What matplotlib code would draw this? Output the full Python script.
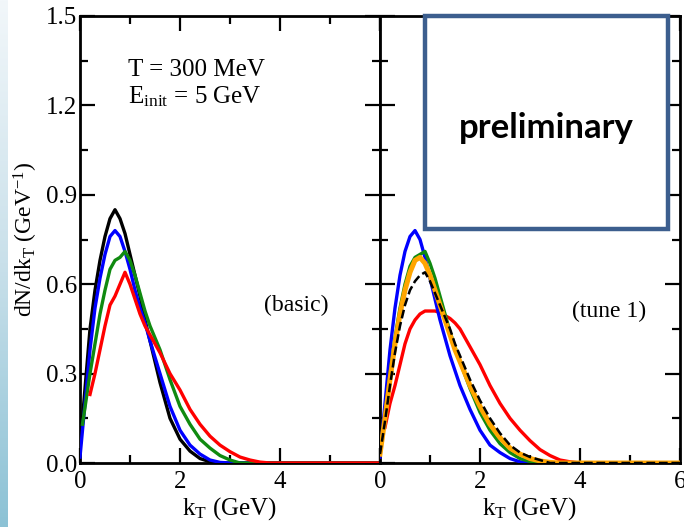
import numpy as np
import matplotlib
matplotlib.use("Agg")
import matplotlib.pyplot as plt
from matplotlib.patches import Rectangle
from matplotlib.colors import LinearSegmentedColormap

plt.rcParams['font.family'] = ['Liberation Serif', 'DejaVu Serif']
plt.rcParams['mathtext.fontset'] = 'custom'
plt.rcParams['mathtext.rm'] = 'Liberation Serif'
plt.rcParams['mathtext.it'] = 'Liberation Serif:italic'

# ---- data ----
# left panel (basic)
basic_black_k = [0, 0.1, 0.2, 0.3, 0.4, 0.5, 0.6, 0.7, 0.8, 0.9, 1.0, 1.1, 1.2, 1.3, 1.4, 1.6, 1.8, 2.0, 2.2, 2.4, 2.6, 2.8, 6.0]
basic_black_v = [0.05, 0.25, 0.45, 0.58, 0.68, 0.76, 0.82, 0.85, 0.82, 0.77, 0.70, 0.63, 0.56, 0.48, 0.41, 0.27, 0.15, 0.08, 0.04, 0.015, 0.004, 0.0, 0.0]

basic_blue_k = [0, 0.1, 0.2, 0.3, 0.4, 0.5, 0.6, 0.7, 0.8, 0.9, 1.0, 1.1, 1.2, 1.3, 1.4, 1.6, 1.8, 2.0, 2.2, 2.4, 2.6, 2.8, 3.0, 6.0]
basic_blue_v = [0.02, 0.20, 0.38, 0.52, 0.62, 0.70, 0.76, 0.78, 0.76, 0.71, 0.65, 0.58, 0.52, 0.47, 0.41, 0.30, 0.19, 0.11, 0.06, 0.03, 0.01, 0.002, 0.0, 0.0]

basic_green_k = [0.05, 0.2, 0.3, 0.4, 0.5, 0.6, 0.7, 0.8, 0.9, 1.0, 1.1, 1.2, 1.3, 1.4, 1.6, 1.8, 2.0, 2.2, 2.4, 2.6, 2.8, 3.0, 3.2, 6.0]
basic_green_v = [0.13, 0.30, 0.40, 0.50, 0.58, 0.65, 0.68, 0.69, 0.71, 0.68, 0.63, 0.57, 0.51, 0.46, 0.38, 0.28, 0.19, 0.13, 0.08, 0.05, 0.025, 0.01, 0.0, 0.0]

basic_red_k = [0.2, 0.3, 0.4, 0.5, 0.6, 0.7, 0.8, 0.9, 1.0, 1.1, 1.2, 1.3, 1.4, 1.6, 1.8, 2.0, 2.2, 2.4, 2.6, 2.8, 3.0, 3.2, 3.4, 3.6, 3.8, 6.0]
basic_red_v = [0.23, 0.30, 0.38, 0.46, 0.53, 0.56, 0.60, 0.64, 0.60, 0.55, 0.50, 0.46, 0.43, 0.37, 0.30, 0.245, 0.18, 0.13, 0.09, 0.06, 0.038, 0.02, 0.01, 0.003, 0.0, 0.0]

# right panel (tune 1)
tune_blue_k = [0, 0.1, 0.2, 0.3, 0.4, 0.5, 0.6, 0.7, 0.8, 0.9, 1.0, 1.1, 1.2, 1.3, 1.4, 1.5, 1.6, 1.8, 2.0, 2.2, 2.4, 2.6, 2.8, 3.0, 6.0]
tune_blue_v = [0.02, 0.20, 0.38, 0.52, 0.63, 0.71, 0.76, 0.78, 0.75, 0.69, 0.62, 0.55, 0.48, 0.42, 0.36, 0.31, 0.26, 0.18, 0.11, 0.06, 0.035, 0.015, 0.004, 0.0, 0.0]

tune_green_k = [0, 0.1, 0.2, 0.3, 0.4, 0.5, 0.6, 0.7, 0.8, 0.9, 1.0, 1.1, 1.2, 1.3, 1.4, 1.5, 1.6, 1.8, 2.0, 2.2, 2.4, 2.6, 2.8, 3.0, 3.2, 6.0]
tune_green_v = [0.03, 0.16, 0.30, 0.42, 0.52, 0.60, 0.66, 0.69, 0.70, 0.71, 0.67, 0.62, 0.56, 0.50, 0.44, 0.39, 0.34, 0.25, 0.17, 0.11, 0.065, 0.035, 0.015, 0.005, 0.0, 0.0]

tune_orange_k = [0, 0.1, 0.2, 0.3, 0.4, 0.5, 0.6, 0.7, 0.8, 0.9, 1.0, 1.1, 1.2, 1.3, 1.4, 1.5, 1.6, 1.8, 2.0, 2.2, 2.4, 2.6, 2.8, 3.0, 3.2, 3.4, 3.6, 6.0]
tune_orange_v = [0.03, 0.15, 0.28, 0.40, 0.50, 0.58, 0.64, 0.68, 0.69, 0.67, 0.63, 0.58, 0.53, 0.48, 0.43, 0.38, 0.34, 0.26, 0.19, 0.13, 0.085, 0.05, 0.03, 0.015, 0.007, 0.002, 0.0, 0.0]

tune_black_k = [0, 0.1, 0.2, 0.3, 0.4, 0.5, 0.6, 0.7, 0.8, 0.9, 1.0, 1.1, 1.2, 1.3, 1.4, 1.5, 1.6, 1.8, 2.0, 2.2, 2.4, 2.6, 2.8, 3.0, 3.2, 3.4, 6.0]
tune_black_v = [0.03, 0.14, 0.26, 0.37, 0.46, 0.53, 0.58, 0.61, 0.63, 0.64, 0.61, 0.57, 0.53, 0.49, 0.45, 0.40, 0.36, 0.28, 0.21, 0.15, 0.10, 0.06, 0.035, 0.02, 0.01, 0.0, 0.0]

tune_red_k = [0.1, 0.2, 0.3, 0.4, 0.5, 0.6, 0.7, 0.8, 0.9, 1.0, 1.1, 1.2, 1.3, 1.4, 1.5, 1.6, 1.8, 2.0, 2.2, 2.4, 2.6, 2.8, 3.0, 3.2, 3.4, 3.6, 3.8, 4.0, 6.0]
tune_red_v = [0.12, 0.20, 0.26, 0.33, 0.40, 0.45, 0.48, 0.50, 0.51, 0.51, 0.51, 0.505, 0.495, 0.485, 0.47, 0.45, 0.39, 0.33, 0.26, 0.20, 0.15, 0.11, 0.075, 0.045, 0.025, 0.01, 0.004, 0.0, 0.0]

x_ticks = [0, 2, 4, 6]
left_xlabels = ['0', '2', '4', '']
right_xlabels = ['0', '2', '4', '6']
y_ticks = [0.0, 0.3, 0.6, 0.9, 1.2, 1.5]
y_labels = ['0.0', '0.3', '0.6', '0.9', '1.2', '1.5']

fig = plt.figure(figsize=(6.84, 5.27), dpi=100)

# light blue slide edge on the left
strip = fig.add_axes([0, 0, 8 / 684, 1])
grad = np.linspace(0, 1, 256).reshape(-1, 1)
cm = LinearSegmentedColormap.from_list('edge', ['#f2f7fa', '#c9e0ea', '#8cc2d5'])
strip.imshow(grad, aspect='auto', cmap=cm, origin='upper', extent=[0, 1, 0, 1])
strip.axis('off')

ax1 = fig.add_axes([80 / 684, 64 / 527, 300 / 684, 447 / 527])
ax2 = fig.add_axes([380 / 684, 64 / 527, 300 / 684, 447 / 527])

lw = 2.4
ax1.plot(basic_black_k, basic_black_v, color='black', lw=lw, zorder=3)
ax1.plot(basic_blue_k, basic_blue_v, color='#0000ff', lw=lw, zorder=4)
ax1.plot(basic_green_k, basic_green_v, color='#108a10', lw=lw, zorder=5)
ax1.plot(basic_red_k, basic_red_v, color='#ff0000', lw=lw, zorder=6)

ax2.plot(tune_red_k, tune_red_v, color='#ff0000', lw=lw, zorder=3)
ax2.plot(tune_blue_k, tune_blue_v, color='#0000ff', lw=lw, zorder=4)
ax2.plot(tune_green_k, tune_green_v, color='#108a10', lw=lw, zorder=5)
ax2.plot(tune_orange_k, tune_orange_v, color='#ffa500', lw=3.6, zorder=6)
ax2.plot(tune_black_k, tune_black_v, color='black', lw=1.8, dashes=(3.5, 1.5), zorder=7)

for ax in (ax1, ax2):
    ax.set_xlim(0, 6)
    ax.set_ylim(0, 1.5)
    ax.set_xticks(x_ticks)
    ax.set_xticks([1, 3, 5], minor=True)
    ax.set_yticks(y_ticks)
    ax.set_yticks([0.15, 0.45, 0.75, 1.05, 1.35], minor=True)
    ax.tick_params(which='both', direction='in', top=True, right=True, width=1.6, labelsize=18)
    ax.tick_params(which='major', length=11)
    ax.tick_params(which='minor', length=6)
    ax.tick_params(axis='x', pad=6)
    for s in ax.spines.values():
        s.set_linewidth(2.0)
    ax.set_xlabel(r'k$_{\mathrm{T}}$ (GeV)', fontsize=18, labelpad=1)

ax1.set_xticklabels(left_xlabels)
ax1.set_yticklabels(y_labels)
ax2.set_xticklabels(right_xlabels)
ax2.set_yticklabels([])
ax1.tick_params(axis='y', pad=2)
ax1.set_ylabel(r'dN/dk$_{\mathrm{T}}$ (GeV$^{\mathrm{-1}}$)', fontsize=17, labelpad=4)

ax1.text(0.16, 0.866, 'T = 300 MeV', transform=ax1.transAxes, fontsize=18)
ax1.text(0.16, 0.805, r'E$_{\mathrm{init}}$ = 5 GeV', transform=ax1.transAxes, fontsize=18)
ax1.text(0.72, 0.353, '(basic)', transform=ax1.transAxes, fontsize=17, ha='center', va='center')
ax2.text(0.763, 0.338, '(tune 1)', transform=ax2.transAxes, fontsize=17, ha='center', va='center')

# "preliminary" box pasted over the top right
box = Rectangle((425 / 684, 1 - 229 / 527), 243 / 684, 213 / 527, transform=fig.transFigure,
                facecolor='white', edgecolor='#3c5e8e', lw=3.2, zorder=10)
fig.patches.append(box)
fig.text(546 / 684, 1 - 128 / 527, 'preliminary', fontsize=25, fontweight='bold',
         family=['Lato', 'DejaVu Sans'], ha='center', va='center', zorder=11)

fig.savefig('out.png', dpi=100)
